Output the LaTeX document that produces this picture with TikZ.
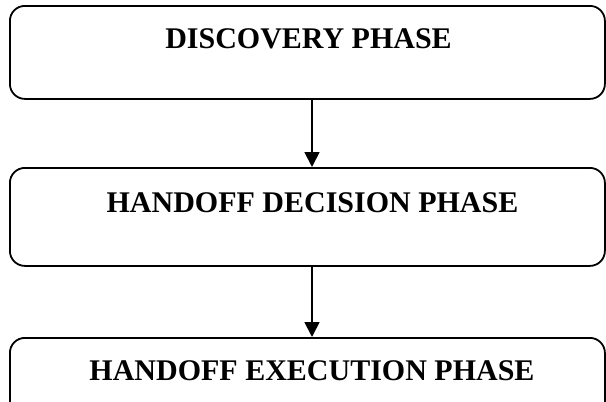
\documentclass[tikz,border=0pt]{standalone}
\usepackage{fontspec}
\setmainfont{Liberation Serif}
\usetikzlibrary{arrows.meta}
\tikzset{
  phasebox/.style={draw=black, line width=1.8pt, rounded corners=15pt, inner sep=0pt, anchor=north west},
  phasetext/.style={font=\bfseries\fontsize{30}{36}\selectfont, anchor=base, inner sep=0pt},
  flow/.style={line width=1.8pt, -{Triangle[length=15pt,width=15pt]}}
}
\begin{document}
\begin{tikzpicture}[x=1pt,y=-1pt]
\useasboundingbox (0,0) rectangle (606,402);
\clip (0,0) rectangle (606,402);
\node[phasebox, minimum width=595pt, minimum height=93pt] (b1) at (9,5) {};
\node[phasebox, minimum width=595pt, minimum height=98pt] (b2) at (9,167) {};
\node[phasebox, minimum width=595pt, minimum height=80pt] (b3) at (9,337) {};
\node[phasetext] (t1) at (308.5,48) {DISCOVERY PHASE};
\node[phasetext] (t2) at (312.5,212) {HANDOFF DECISION PHASE};
\node[phasetext] (t3) at (312,380) {HANDOFF EXECUTION PHASE};
\draw[flow] (b1.south -| 312,0) -- (b2.north -| 312,0);
\draw[flow] (b2.south -| 312,0) -- (b3.north -| 312,0);
\end{tikzpicture}
\end{document}
